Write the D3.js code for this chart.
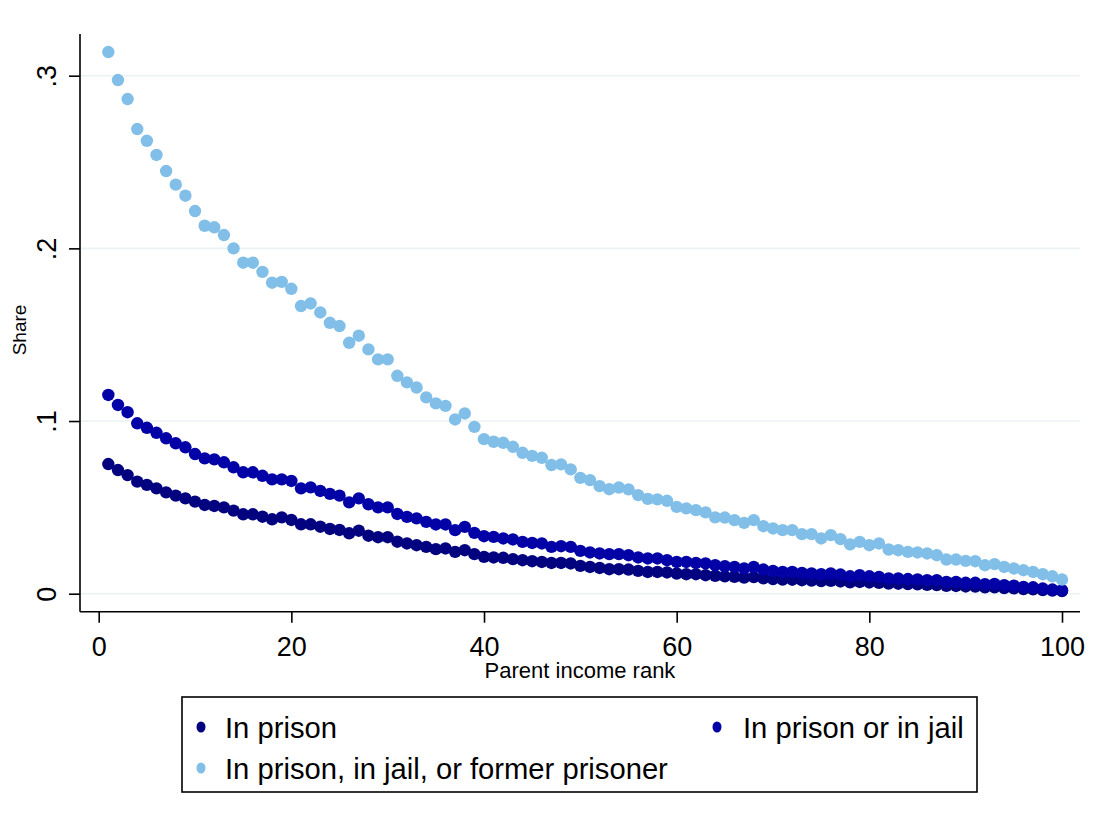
<!DOCTYPE html>
<html>
<head>
<meta charset="utf-8">
<script src="https://cdn.jsdelivr.net/npm/d3@7"></script>
<style>
  html, body { margin: 0; padding: 0; background: #fff; }
  svg { display: block; }
  text { font-family: "Liberation Sans", Arial, sans-serif; fill: #000; }
</style>
</head>
<body>
<svg id="chart" width="1106" height="829"></svg>
<script>
// ---- data ----
const ranks = d3.range(1, 101);

const inPrison = [
  0.0751, 0.0716, 0.0687, 0.0649, 0.0630, 0.0610, 0.0587, 0.0568, 0.0552, 0.0533,
  0.0514, 0.0508, 0.0500, 0.0481, 0.0460, 0.0460, 0.0446, 0.0431, 0.0442, 0.0427,
  0.0402, 0.0402, 0.0388, 0.0375, 0.0369, 0.0350, 0.0365, 0.0336, 0.0327, 0.0327,
  0.0301, 0.0291, 0.0281, 0.0271, 0.0258, 0.0262, 0.0242, 0.0252, 0.0229, 0.0213,
  0.0210, 0.0208, 0.0200, 0.0194, 0.0188, 0.0184, 0.0178, 0.0178, 0.0175, 0.0161,
  0.0155, 0.0149, 0.0142, 0.0142, 0.0140, 0.0132, 0.0126, 0.0126, 0.0123, 0.0117,
  0.0113, 0.0113, 0.0107, 0.0104, 0.0101, 0.0098, 0.0093, 0.0096, 0.0089, 0.0085,
  0.0082, 0.0081, 0.0078, 0.0076, 0.0073, 0.0075, 0.0071, 0.0066, 0.0068, 0.0065,
  0.0063, 0.0059, 0.0058, 0.0056, 0.0054, 0.0051, 0.0050, 0.0046, 0.0045, 0.0042,
  0.0041, 0.0037, 0.0037, 0.0033, 0.0031, 0.0027, 0.0025, 0.0021, 0.0018, 0.0015
];

const inPrisonOrJail = [
  0.1151, 0.1093, 0.1051, 0.0987, 0.0961, 0.0932, 0.0900, 0.0871, 0.0848, 0.0809,
  0.0784, 0.0778, 0.0761, 0.0732, 0.0703, 0.0703, 0.0683, 0.0662, 0.0662, 0.0653,
  0.0610, 0.0616, 0.0595, 0.0578, 0.0568, 0.0529, 0.0552, 0.0518, 0.0500, 0.0500,
  0.0462, 0.0445, 0.0436, 0.0416, 0.0401, 0.0401, 0.0368, 0.0387, 0.0352, 0.0333,
  0.0329, 0.0320, 0.0314, 0.0300, 0.0294, 0.0291, 0.0271, 0.0275, 0.0271, 0.0248,
  0.0239, 0.0233, 0.0229, 0.0229, 0.0223, 0.0210, 0.0204, 0.0204, 0.0194, 0.0184,
  0.0184, 0.0178, 0.0175, 0.0165, 0.0159, 0.0155, 0.0146, 0.0155, 0.0140, 0.0132,
  0.0126, 0.0126, 0.0120, 0.0117, 0.0113, 0.0117, 0.0111, 0.0101, 0.0107, 0.0101,
  0.0097, 0.0088, 0.0088, 0.0085, 0.0083, 0.0078, 0.0078, 0.0068, 0.0068, 0.0063,
  0.0063, 0.0055, 0.0057, 0.0049, 0.0047, 0.0039, 0.0037, 0.0030, 0.0024, 0.0020
];

const inPrisonJailOrFormer = [
  0.3137, 0.2975, 0.2865, 0.2691, 0.2623, 0.2541, 0.2448, 0.2369, 0.2305, 0.2216,
  0.2131, 0.2122, 0.2077, 0.2000, 0.1917, 0.1917, 0.1864, 0.1801, 0.1806, 0.1766,
  0.1666, 0.1681, 0.1629, 0.1569, 0.1550, 0.1453, 0.1494, 0.1415, 0.1357, 0.1357,
  0.1262, 0.1224, 0.1194, 0.1137, 0.1102, 0.1088, 0.1009, 0.1044, 0.0966, 0.0895,
  0.0880, 0.0874, 0.0851, 0.0816, 0.0798, 0.0787, 0.0745, 0.0749, 0.0720, 0.0671,
  0.0658, 0.0623, 0.0605, 0.0615, 0.0604, 0.0571, 0.0549, 0.0546, 0.0538, 0.0503,
  0.0494, 0.0484, 0.0471, 0.0442, 0.0441, 0.0426, 0.0410, 0.0426, 0.0391, 0.0378,
  0.0368, 0.0368, 0.0345, 0.0345, 0.0320, 0.0339, 0.0316, 0.0285, 0.0300, 0.0281,
  0.0291, 0.0256, 0.0252, 0.0242, 0.0239, 0.0233, 0.0223, 0.0198, 0.0198, 0.0190,
  0.0188, 0.0165, 0.0171, 0.0155, 0.0146, 0.0136, 0.0126, 0.0113, 0.0101, 0.0082
];

const seriesNames = ["In prison", "In prison or in jail", "In prison, in jail, or former prisoner"];
const seriesColors = ["#03037f", "#0202a6", "#82bfe8"];
const xTicks = [0, 20, 40, 60, 80, 100];
const yTicks = [0, 0.1, 0.2, 0.3];
const yTickLabels = ["0", ".1", ".2", ".3"];
const xTitle = "Parent income rank";
const yTitle = "Share";

// ---- layout ----
const svg = d3.select("#chart");
const x = d3.scaleLinear().domain([0, 100]).range([98.7, 1062]);
const y = d3.scaleLinear().domain([0, 0.3]).range([593.7, 75.7]);
const axisX0 = 80, axisX1 = 1080, axisY = 611.7, axisTop = 34;

// gridlines
svg.append("g").selectAll("line").data(yTicks).join("line")
  .attr("x1", axisX0 + 1).attr("x2", axisX1)
  .attr("y1", d => y(d)).attr("y2", d => y(d))
  .attr("stroke", "#eaf2f3").attr("stroke-width", 1.6);

// y axis
const yAxis = d3.axisLeft(y).tickValues(yTicks).tickSize(11).tickPadding(13)
  .tickFormat((d, i) => yTickLabels[i]);
const gy = svg.append("g").attr("transform", `translate(${axisX0},0)`).call(yAxis);
gy.select(".domain").remove();
gy.selectAll(".tick line").attr("stroke", "#000").attr("stroke-width", 1.6);
gy.selectAll(".tick text")
  .attr("font-size", 27).attr("x", null).attr("dy", null)
  .attr("text-anchor", "middle")
  .attr("transform", "translate(-24,0) rotate(-90)")
  .attr("y", 0);
gy.append("line").attr("x1", 0).attr("x2", 0).attr("y1", axisTop).attr("y2", axisY)
  .attr("stroke", "#000").attr("stroke-width", 1.6);

// x axis
const xAxis = d3.axisBottom(x).tickValues(xTicks).tickSize(11).tickPadding(6)
  .tickFormat(d3.format("d"));
const gx = svg.append("g").attr("transform", `translate(0,${axisY})`).call(xAxis);
gx.select(".domain").remove();
gx.selectAll(".tick line").attr("stroke", "#000").attr("stroke-width", 1.6);
gx.selectAll(".tick text").attr("font-size", 27).attr("dy", null).attr("y", 44);
gx.append("line").attr("x1", axisX0).attr("x2", axisX1).attr("y1", 0).attr("y2", 0)
  .attr("stroke", "#000").attr("stroke-width", 1.6);

// titles
svg.append("text").attr("x", 580).attr("y", 678).attr("text-anchor", "middle")
  .attr("font-size", 22).text(xTitle);
svg.append("text").attr("transform", "translate(26,330) rotate(-90)")
  .attr("text-anchor", "middle").attr("font-size", 19).text(yTitle);

// points
const allSeries = [inPrison, inPrisonOrJail, inPrisonJailOrFormer];
allSeries.forEach((vals, si) => {
  svg.append("g").selectAll("circle").data(vals).join("circle")
    .attr("cx", (d, i) => x(ranks[i]))
    .attr("cy", d => y(d))
    .attr("r", 6.2)
    .attr("fill", seriesColors[si]);
});

// legend
const lg = svg.append("g");
lg.append("rect").attr("x", 182).attr("y", 697).attr("width", 795).attr("height", 95)
  .attr("fill", "#fff").attr("stroke", "#000").attr("stroke-width", 1.6);
const legendPos = [
  { mx: 201, tx: 225, cy: 727 },
  { mx: 717, tx: 743, cy: 727 },
  { mx: 201, tx: 225, cy: 768 }
];
seriesNames.forEach((name, i) => {
  const p = legendPos[i];
  lg.append("ellipse").attr("cx", p.mx).attr("cy", p.cy).attr("rx", 4.5).attr("ry", 5.5)
    .attr("fill", seriesColors[i]);
  lg.append("text").attr("x", p.tx).attr("y", p.cy + 10.5).attr("font-size", 29.2).text(name);
});
</script>
</body>
</html>
